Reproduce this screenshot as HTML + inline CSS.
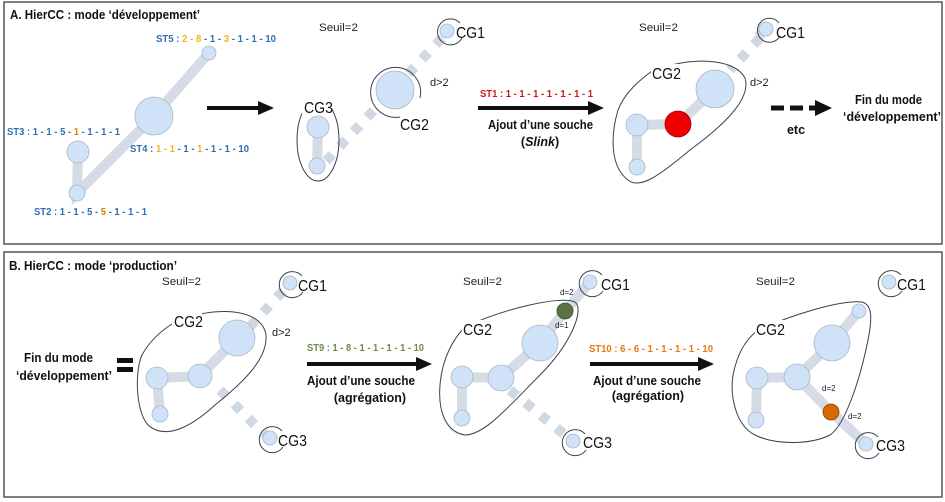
<!DOCTYPE html>
<html><head><meta charset="utf-8"><style>
html,body{margin:0;padding:0;background:#fff;}
svg{display:block;font-family:"Liberation Sans",Arial,sans-serif;}
.n{fill:#cfe2f7;stroke:#a9b6c4;stroke-width:0.8;}
.e{stroke:#d5dce5;stroke-width:10;fill:none;}
.d{stroke:#d0d8e2;stroke-width:10;fill:none;stroke-dasharray:9 11;}
.o{fill:none;stroke:#3a4150;stroke-width:1;}
.cg{font-size:16px;fill:#111;}
.s{font-size:11px;fill:#222;}
.lbl{font-size:10.5px;font-weight:bold;}
.bl{fill:#2e6eb5;} .yl{fill:#f5b21f;} .or{fill:#e07a10;}
.t{font-size:12.5px;font-weight:bold;fill:#111;}
</style></head><body>
<svg width="945" height="502" viewBox="0 0 945 502" xmlns="http://www.w3.org/2000/svg">
<rect x="0" y="0" width="945" height="502" fill="#fff"/>
<rect x="4" y="2" width="938" height="242" fill="none" stroke="#555" stroke-width="1.5"/>
<rect x="4" y="252" width="938" height="245" fill="none" stroke="#555" stroke-width="1.5"/>

<!-- Panel A -->
<text x="10" y="19" class="t" font-size="13" textLength="190" lengthAdjust="spacingAndGlyphs">A. HierCC : mode ‘développement’</text>
<path class="e" d="M209,53 L154,116 L77,193 L78,152"/>
<circle class="n" cx="209" cy="53" r="7"/>
<circle class="n" cx="154" cy="116" r="19"/>
<circle class="n" cx="78" cy="152" r="11"/>
<circle class="n" cx="77" cy="193" r="8"/>
<text x="156" y="42" class="lbl" textLength="120" lengthAdjust="spacingAndGlyphs"><tspan class="bl">ST5 : </tspan><tspan class="yl">2 - 8 </tspan><tspan class="bl">- 1 - </tspan><tspan class="yl">3 </tspan><tspan class="bl">- 1 - 1 - 10</tspan></text>
<text x="7" y="135" class="lbl" textLength="113" lengthAdjust="spacingAndGlyphs"><tspan class="bl">ST3 : 1 - 1 - 5 - </tspan><tspan class="or">1 </tspan><tspan class="bl">- 1 - 1 - 1</tspan></text>
<text x="130" y="152" class="lbl" textLength="119" lengthAdjust="spacingAndGlyphs"><tspan class="bl">ST4 : </tspan><tspan class="yl">1 - 1 </tspan><tspan class="bl">- 1 - </tspan><tspan class="yl">1 </tspan><tspan class="bl">- 1 - 1 - 10</tspan></text>
<text x="34" y="215" class="lbl" textLength="113" lengthAdjust="spacingAndGlyphs"><tspan class="bl">ST2 : 1 - 1 - 5 - </tspan><tspan class="or">5 </tspan><tspan class="bl">- 1 - 1 - 1</tspan></text>
<line x1="207" y1="108" x2="262" y2="108" stroke="#111" stroke-width="4"/>
<polygon points="258,101 274,108 258,115" fill="#111"/>

<text x="319" y="31" class="s" textLength="39" lengthAdjust="spacingAndGlyphs">Seuil=2</text>
<path class="d" d="M442,38 L325,162"/>
<path class="e" d="M318,127 L317,166"/>
<circle class="n" cx="447" cy="31" r="7"/>
<path class="o" d="M462,38 A13,13 0 1,1 460,23"/>
<text x="456" y="38" class="cg" textLength="29" lengthAdjust="spacingAndGlyphs">CG1</text>
<circle class="n" cx="395" cy="90" r="19"/>
<path class="o" d="M400,117 A25,25 0 1,1 420,98"/>
<text x="400" y="130" class="cg" textLength="29" lengthAdjust="spacingAndGlyphs">CG2</text>
<text x="430" y="86" class="s">d&gt;2</text>
<ellipse class="o" cx="318" cy="140" rx="21" ry="41"/>
<circle class="n" cx="318" cy="127" r="11"/>
<circle class="n" cx="317" cy="166" r="8"/>
<rect x="302" y="98" width="30" height="16" fill="#fff"/>
<text x="304" y="113" class="cg" textLength="29" lengthAdjust="spacingAndGlyphs">CG3</text>
<text x="480" y="97" class="lbl" fill="#d0141c" textLength="113" lengthAdjust="spacingAndGlyphs">ST1 : 1 - 1 - 1 - 1 - 1 - 1 - 1</text>
<line x1="478" y1="108" x2="592" y2="108" stroke="#111" stroke-width="4"/>
<polygon points="588,101 604,108 588,115" fill="#111"/>
<text x="488" y="129" class="t" textLength="105" lengthAdjust="spacingAndGlyphs">Ajout d’une souche</text>
<text x="540" y="146" class="t" text-anchor="middle">(<tspan font-style="italic">Slink</tspan>)</text>

<text x="639" y="31" class="s" textLength="39" lengthAdjust="spacingAndGlyphs">Seuil=2</text>
<path class="d" d="M760,38 L730,70"/>
<path class="e" d="M766,29 L758,37"/>
<path class="e" d="M715,89 L678,124 L637,125 L637,167"/>
<circle class="n" cx="766" cy="29" r="7"/>
<path class="o" d="M780,36 A12,12 0 1,1 779,23"/>
<text x="776" y="38" class="cg" textLength="29" lengthAdjust="spacingAndGlyphs">CG1</text>
<path class="o" d="M652,71 C690,56 735,58 745,78 C752,100 720,128 690,150 C660,175 640,190 628,180 C608,165 612,130 618,110 C625,92 640,80 652,71"/>
<circle class="n" cx="715" cy="89" r="19"/>
<circle cx="678" cy="124" r="13" fill="#e00" stroke="#900" stroke-width="0.8"/>
<circle class="n" cx="637" cy="125" r="11"/>
<circle class="n" cx="637" cy="167" r="8"/>
<rect x="651" y="64" width="30" height="16" fill="#fff"/>
<text x="652" y="79" class="cg" textLength="29" lengthAdjust="spacingAndGlyphs">CG2</text>
<text x="750" y="86" class="s">d&gt;2</text>
<line x1="771" y1="108" x2="825" y2="108" stroke="#111" stroke-width="5" stroke-dasharray="13 6"/>
<polygon points="815,100 832,108 815,116" fill="#111"/>
<text x="796" y="134" class="t" text-anchor="middle">etc</text>
<text x="855" y="104" class="t" textLength="67" lengthAdjust="spacingAndGlyphs">Fin du mode</text>
<text x="843" y="121" class="t" textLength="98" lengthAdjust="spacingAndGlyphs">‘développement’</text>

<!-- Panel B -->
<text x="9" y="270" class="t" font-size="13" textLength="168" lengthAdjust="spacingAndGlyphs">B. HierCC : mode ‘production’</text>
<text x="162" y="285" class="s" textLength="39" lengthAdjust="spacingAndGlyphs">Seuil=2</text>
<path class="d" d="M283,291 L245,332"/>
<path class="d" d="M220,390 L265,435"/>
<path class="e" d="M237,338 L200,376 L157,378 L160,414"/>
<circle class="n" cx="290" cy="283" r="7"/>
<path class="o" d="M303,292 A13,13 0 1,1 302,276"/>
<text x="298" y="291" class="cg" textLength="29" lengthAdjust="spacingAndGlyphs">CG1</text>
<path class="o" d="M175,322 C215,305 262,308 266,335 C268,360 240,385 215,405 C190,428 165,440 148,425 C135,410 135,370 142,355 C150,340 162,330 175,322"/>
<circle class="n" cx="237" cy="338" r="18"/>
<circle class="n" cx="200" cy="376" r="12"/>
<circle class="n" cx="157" cy="378" r="11"/>
<circle class="n" cx="160" cy="414" r="8"/>
<rect x="172" y="312" width="30" height="16" fill="#fff"/>
<text x="174" y="327" class="cg" textLength="29" lengthAdjust="spacingAndGlyphs">CG2</text>
<text x="272" y="336" class="s">d&gt;2</text>
<circle class="n" cx="270" cy="438" r="7"/>
<path class="o" d="M283,447 A13,13 0 1,1 282,431"/>
<text x="278" y="446" class="cg" textLength="29" lengthAdjust="spacingAndGlyphs">CG3</text>
<text x="24" y="362" class="t" textLength="69" lengthAdjust="spacingAndGlyphs">Fin du mode</text>
<text x="16" y="380" class="t" textLength="96" lengthAdjust="spacingAndGlyphs">‘développement’</text>
<rect x="117" y="358" width="16" height="5" fill="#111"/>
<rect x="117" y="367" width="16" height="5" fill="#111"/>
<text x="307" y="351" class="lbl" fill="#6a8a4a" font-size="9.5" textLength="117" lengthAdjust="spacingAndGlyphs">ST9 : 1 - 8 - 1 - 1 - 1 - 1 - 10</text>
<line x1="307" y1="364" x2="420" y2="364" stroke="#111" stroke-width="4"/>
<polygon points="416,357 432,364 416,371" fill="#111"/>
<text x="307" y="385" class="t" textLength="108" lengthAdjust="spacingAndGlyphs">Ajout d’une souche</text>
<text x="370" y="402" class="t" text-anchor="middle">(agrégation)</text>

<text x="463" y="285" class="s" textLength="39" lengthAdjust="spacingAndGlyphs">Seuil=2</text>
<path class="d" d="M510,390 L565,435"/>
<path class="e" d="M590,282 L565,311 L540,343 L501,378 L462,377 L462,418"/>
<circle class="n" cx="590" cy="282" r="7"/>
<path class="o" d="M603,291 A13,13 0 1,1 602,275"/>
<text x="601" y="290" class="cg" textLength="29" lengthAdjust="spacingAndGlyphs">CG1</text>
<path class="o" d="M465,327 C500,310 560,295 575,302 C585,310 570,345 540,375 C510,405 485,435 465,435 C445,432 438,410 440,385 C442,360 452,340 465,327"/>
<circle cx="565" cy="311" r="8" fill="#5b7246" stroke="#3e5030" stroke-width="0.8"/>
<circle class="n" cx="540" cy="343" r="18"/>
<circle class="n" cx="501" cy="378" r="13"/>
<circle class="n" cx="462" cy="377" r="11"/>
<circle class="n" cx="462" cy="418" r="8"/>
<text x="560" y="295" font-size="8" fill="#222">d=2</text>
<text x="555" y="328" font-size="8" fill="#222">d=1</text>
<rect x="462" y="320" width="30" height="16" fill="#fff"/>
<text x="463" y="335" class="cg" textLength="29" lengthAdjust="spacingAndGlyphs">CG2</text>
<circle class="n" cx="573" cy="441" r="7"/>
<path class="o" d="M586,450 A13,13 0 1,1 585,434"/>
<text x="583" y="448" class="cg" textLength="29" lengthAdjust="spacingAndGlyphs">CG3</text>
<text x="589" y="352" class="lbl" fill="#e8780c" font-size="10" textLength="124" lengthAdjust="spacingAndGlyphs">ST10 : 6 - 6 - 1 - 1 - 1 - 1 - 10</text>
<line x1="590" y1="364" x2="702" y2="364" stroke="#111" stroke-width="4"/>
<polygon points="698,357 714,364 698,371" fill="#111"/>
<text x="593" y="385" class="t" textLength="108" lengthAdjust="spacingAndGlyphs">Ajout d’une souche</text>
<text x="648" y="400" class="t" text-anchor="middle">(agrégation)</text>

<text x="756" y="285" class="s" textLength="39" lengthAdjust="spacingAndGlyphs">Seuil=2</text>
<path class="e" d="M859,311 L832,343 L797,377 L757,378 L756,420"/>
<path class="e" d="M797,377 L831,412 L866,444"/>
<circle class="n" cx="889" cy="282" r="7"/>
<path class="o" d="M902,291 A13,13 0 1,1 901,275"/>
<text x="897" y="290" class="cg" textLength="29" lengthAdjust="spacingAndGlyphs">CG1</text>
<path class="o" d="M757,331 C790,315 840,300 862,302 C873,305 872,320 868,340 C860,380 845,425 830,435 C810,445 775,445 755,435 C735,425 730,395 733,375 C737,355 745,340 757,331"/>
<circle class="n" cx="859" cy="311" r="7"/>
<circle class="n" cx="832" cy="343" r="18"/>
<circle class="n" cx="797" cy="377" r="13"/>
<circle class="n" cx="757" cy="378" r="11"/>
<circle class="n" cx="756" cy="420" r="8"/>
<circle cx="831" cy="412" r="8" fill="#d66a00" stroke="#8a4500" stroke-width="0.8"/>
<text x="822" y="391" font-size="8" fill="#222">d=2</text>
<text x="848" y="419" font-size="8" fill="#222">d=2</text>
<rect x="755" y="320" width="30" height="16" fill="#fff"/>
<text x="756" y="335" class="cg" textLength="29" lengthAdjust="spacingAndGlyphs">CG2</text>
<circle class="n" cx="866" cy="444" r="7"/>
<path class="o" d="M879,453 A13,13 0 1,1 878,437"/>
<text x="876" y="451" class="cg" textLength="29" lengthAdjust="spacingAndGlyphs">CG3</text>
</svg>
</body></html>
